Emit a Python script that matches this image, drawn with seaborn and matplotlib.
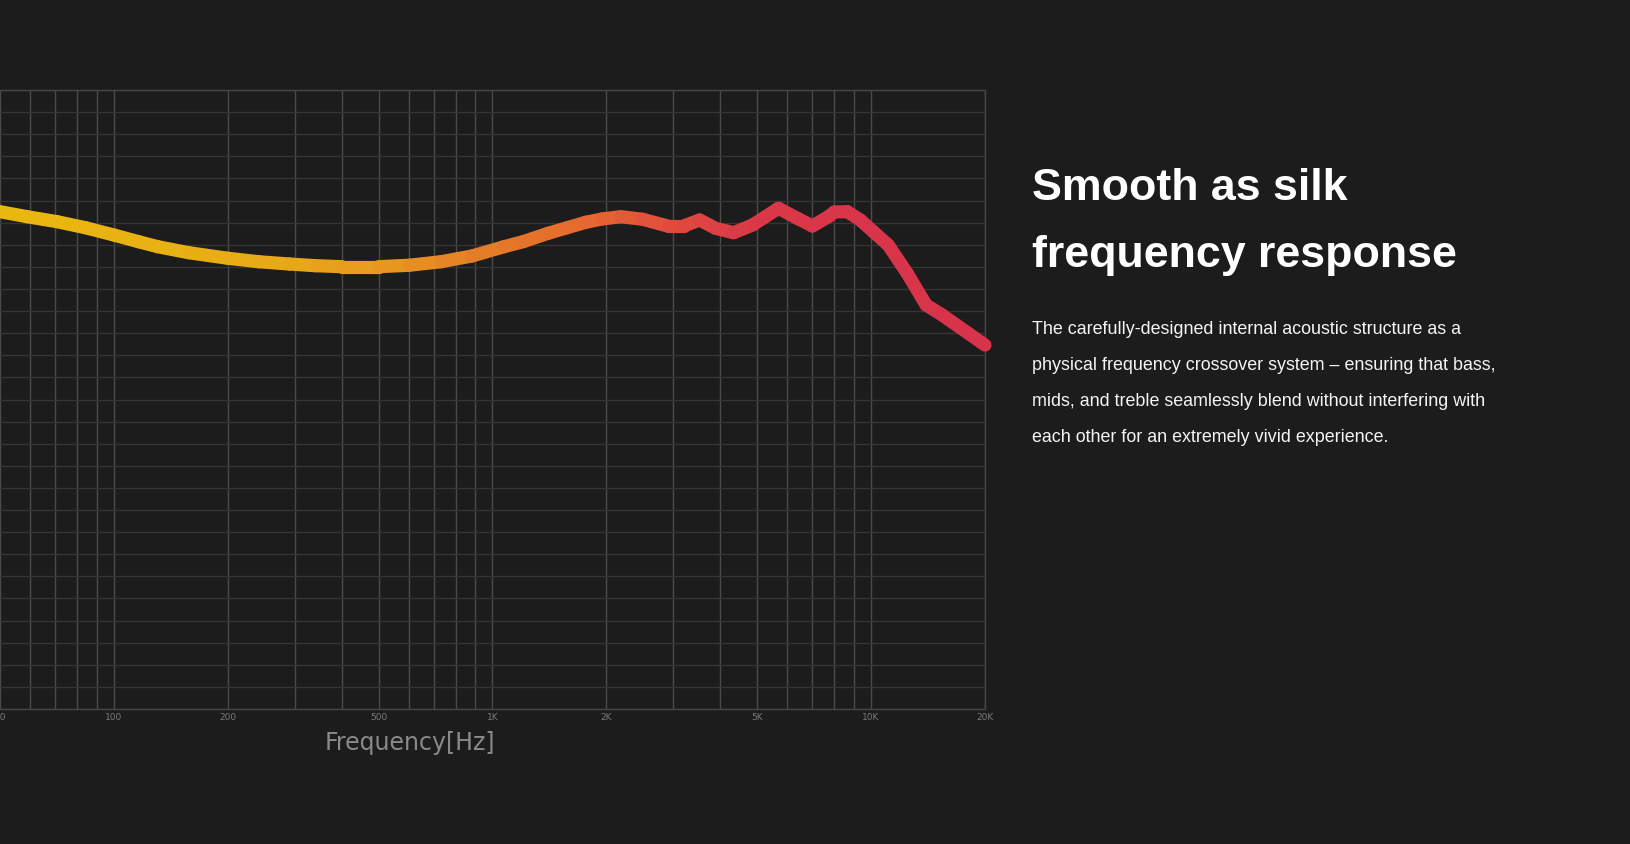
import numpy as np
import pandas as pd
import matplotlib
matplotlib.use("Agg")
import matplotlib.pyplot as plt
import seaborn as sns
from matplotlib.collections import LineCollection
from matplotlib.colors import LinearSegmentedColormap

# ---------------- data ----------------
freq_hz = [50, 59, 70.7, 84, 100, 116, 130.5, 157.5, 200, 241, 291, 341, 400, 500,
           602, 731, 883, 1073, 1205, 1401, 1576, 1764, 1945, 2182, 2494, 2903,
           3198, 3525, 3884, 4333, 4862, 5694, 6389, 7000, 7713, 8000, 8656, 9366,
           11100, 12460, 13980, 15410, 20000]
level_db = [96.24, 95.67, 95.11, 94.43, 93.60, 92.85, 92.28, 91.60, 90.97, 90.58,
            90.32, 90.13, 90.02, 90.02, 90.18, 90.58, 91.23, 92.28, 92.85, 93.79,
            94.43, 95.04, 95.41, 95.67, 95.38, 94.62, 94.62, 95.30, 94.36, 93.86,
            94.73, 96.62, 95.49, 94.62, 95.67, 96.20, 96.24, 95.30, 92.47, 89.27,
            85.69, 84.56, 81.16]

grid_freqs = [50, 60, 70, 80, 90, 100, 200, 300, 400, 500, 600, 700, 800, 900,
              1000, 2000, 3000, 4000, 5000, 6000, 7000, 8000, 9000, 10000, 20000]
tick_labels = {50: "50", 100: "100", 200: "200", 500: "500", 1000: "1K",
               2000: "2K", 5000: "5K", 10000: "10K", 20000: "20K"}

title_lines = ["Smooth as silk", "frequency response"]
body_lines = [
    "The carefully-designed internal acoustic structure as a",
    "physical frequency crossover system \u2013 ensuring that bass,",
    "mids, and treble seamlessly blend without interfering with",
    "each other for an extremely vivid experience.",
]
x_label = "Frequency[Hz]"

# ---------------- style ----------------
BG = "#1c1c1c"
sns.set_theme(style="dark", rc={"figure.facecolor": BG, "axes.facecolor": BG})
plt.rcParams["font.family"] = ["DejaVu Sans"]

W, H = 1630, 844
fig = plt.figure(figsize=(W / 100, H / 100), dpi=100)
fig.patch.set_facecolor(BG)

ax_left, ax_right, ax_top, ax_bot = 0, 985, 90, 709
ax = fig.add_axes([ax_left / W, 1 - ax_bot / H, (ax_right - ax_left) / W,
                   (ax_bot - ax_top) / H])
ax.set_facecolor(BG)

df = pd.DataFrame({"freq": freq_hz, "db": level_db})
sns.lineplot(data=df, x="freq", y="db", ax=ax, color="#e57f24", linewidth=9.5,
             sort=False)
ax.set_xscale("log")
ax.set_xlim(50, 20000)
ax.set_ylim(40, 110)

# turn the seaborn line into a gradient-coloured collection
line = ax.lines[0]
xd, yd = line.get_xdata(), line.get_ydata()
line.remove()
pts = np.column_stack([xd, yd]).reshape(-1, 1, 2)
segs = np.concatenate([pts[:-1], pts[1:]], axis=1)
cmap = LinearSegmentedColormap.from_list(
    "fr",
    [(0.0, "#e9b90e"), (0.25, "#e8ad16"), (0.38, "#e89c1d"), (0.50, "#e47b28"),
     (0.60, "#e6682f"), (0.69, "#e04a3e"), (0.77, "#da3848"), (1.0, "#d8334b")])
lx = np.log10(np.asarray(xd, float))
mid = (lx[:-1] + lx[1:]) / 2
pos = (mid - np.log10(50)) / (np.log10(20000) - np.log10(50))
lc = LineCollection(segs, colors=cmap(pos), linewidths=9.5, capstyle="round",
                    joinstyle="round", zorder=5, clip_on=False)
ax.add_collection(lc)

# grid
ax.set_xticks(grid_freqs)
ax.set_xticklabels([tick_labels.get(f, "") for f in grid_freqs])
ax.xaxis.set_minor_locator(matplotlib.ticker.NullLocator())
ax.set_yticks(np.arange(40, 110.01, 2.5))
ax.set_yticklabels([])
ax.grid(True, axis="x", color="#4a4a4a", linewidth=1.0)
ax.grid(True, axis="y", color="#353535", linewidth=1.0)
ax.tick_params(axis="both", length=0)
ax.tick_params(axis="x", pad=3, labelsize=6.5, labelcolor="#7a7a7a")
ax.set_xlabel("")
ax.set_ylabel("")
for s in ["top", "right", "bottom"]:
    ax.spines[s].set_visible(True)
    ax.spines[s].set_color("#464646")
    ax.spines[s].set_linewidth(1.0)
ax.spines["left"].set_visible(False)

ax.text(410 / 985, -(743 - 709) / 619, x_label, transform=ax.transAxes,
        ha="center", va="center", fontsize=17, color="#8a8a8a",
        family=["DejaVu Sans"])

# right-hand text
tx = 1032 / W
for txt, yb in zip(title_lines, [200, 267]):
    fig.text(tx, 1 - yb / H, txt, ha="left", va="baseline", fontsize=32.2,
             fontweight="bold", color="#ffffff", family=["Liberation Sans", "DejaVu Sans"])
for i, txt in enumerate(body_lines):
    fig.text(tx, 1 - (334 + 36 * i) / H, txt, ha="left", va="baseline",
             fontsize=12.9, color="#f4f4f4", family=["Liberation Sans", "DejaVu Sans"])

fig.savefig("out.png", dpi=100, facecolor=BG)
